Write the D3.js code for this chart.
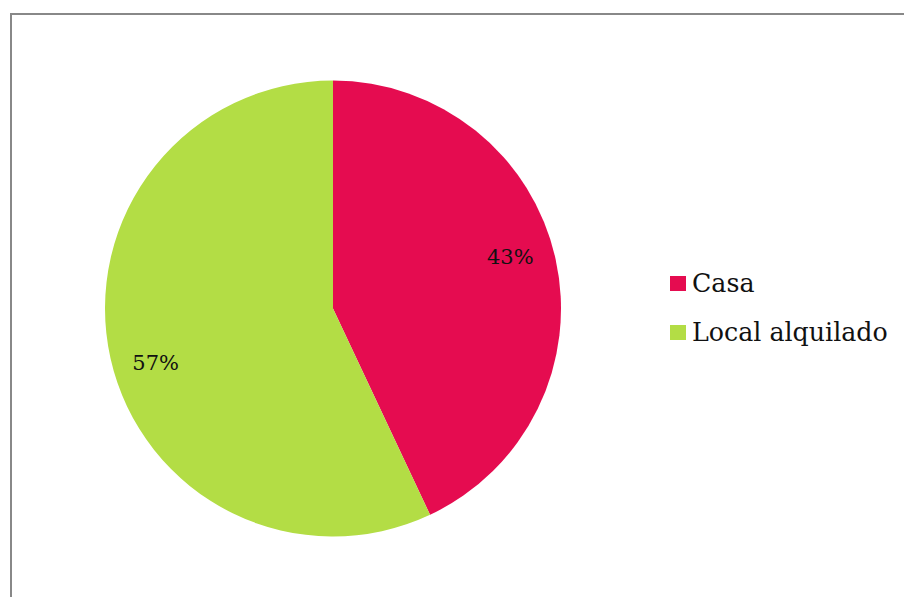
<!DOCTYPE html>
<html>
<head>
<meta charset="utf-8">
<script src="https://cdn.jsdelivr.net/npm/d3@7"></script>
<style>
  body { margin: 0; background: #fff; }
</style>
</head>
<body>
<div id="viz"></div>
<script>
// data
var categories = ["Casa", "Local alquilado"];
var values = [43, 57];
var labels = ["43%", "57%"];
var colors = ["#e50c50", "#b3dd45"];

var width = 904, height = 597;

var svg = d3.select("#viz")
  .append("svg")
  .attr("width", width)
  .attr("height", height);

// chart border
svg.append("rect")
  .attr("x", 11).attr("y", 14)
  .attr("width", 910).attr("height", 600)
  .attr("fill", "none")
  .attr("stroke", "#888")
  .attr("stroke-width", 2);

var cx = 333, cy = 308.5, r = 228;

var pie = d3.pie().sort(null).value(function(d) { return d; });
var arc = d3.arc().innerRadius(0).outerRadius(r);
var labelR = 185, labelShift = -4 * Math.PI / 180;

var g = svg.append("g")
  .attr("transform", "translate(" + cx + "," + cy + ")");

var arcs = pie(values);

g.selectAll("path.slice")
  .data(arcs)
  .enter().append("path")
  .attr("class", "slice")
  .attr("d", arc)
  .attr("fill", function(d, i) { return colors[i]; });

// labels sit slightly counter-clockwise of the slice middle, like the original
g.selectAll("text.lbl")
  .data(arcs)
  .enter().append("text")
  .attr("class", "lbl")
  .attr("transform", function(d) {
    var a = (d.startAngle + d.endAngle) / 2 + labelShift;
    return "translate(" + (labelR * Math.sin(a)) + "," + (-labelR * Math.cos(a)) + ")";
  })
  .attr("text-anchor", "middle")
  .attr("dy", "0.42em")
  .style("font", "21px 'DejaVu Serif', serif")
  .style("fill", "#111")
  .text(function(d, i) { return labels[i]; });

// legend
var legend = svg.append("g")
  .attr("transform", "translate(670,276)");

var item = legend.selectAll("g")
  .data(categories)
  .enter().append("g")
  .attr("transform", function(d, i) { return "translate(0," + (i * 49) + ")"; });

item.append("rect")
  .attr("width", 16).attr("height", 15)
  .attr("fill", function(d, i) { return colors[i]; });

item.append("text")
  .attr("x", 22).attr("y", 16)
  .style("font", "25.3px 'DejaVu Serif', serif")
  .style("fill", "#111")
  .text(function(d) { return d; });
</script>
</body>
</html>
